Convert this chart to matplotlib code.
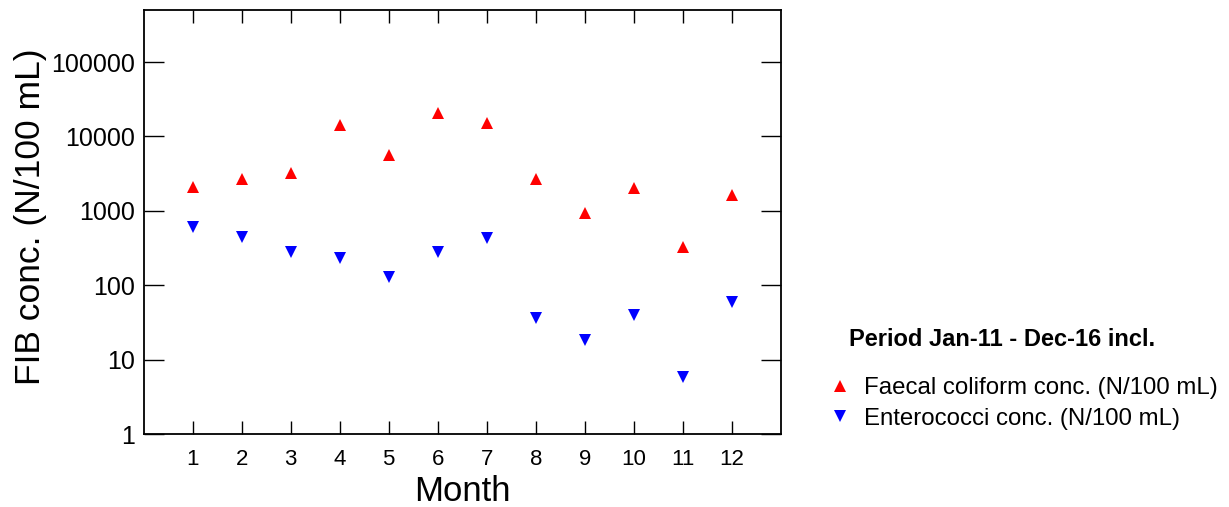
import matplotlib
matplotlib.use("Agg")
import matplotlib.pyplot as plt
from matplotlib.lines import Line2D

plt.rcParams['font.family'] = ['Liberation Sans', 'DejaVu Sans']

# Monthly FIB concentrations, Jan-11 to Dec-16 (N/100 mL)
months = list(range(1, 13))
faecal_coliform = [2090, 2700, 3220, 14260, 5650, 20740, 14990, 2700, 940, 2060, 330, 1620]
enterococci = [606, 442, 280, 236, 129, 283, 431, 36.7, 18.6, 40.3, 5.8, 60.2]

y_ticks = [1, 10, 100, 1000, 10000, 100000]
period_title = "Period Jan-11 - Dec-16 incl."
fc_label = "Faecal coliform conc. (N/100 mL)"
ent_label = "Enterococci conc. (N/100 mL)"

fig = plt.figure(figsize=(12.29, 5.07), dpi=100)
ax = fig.add_axes([0.1168, 0.1434, 0.6355 - 0.1168, 0.9803 - 0.1434])

ax.plot(months, faecal_coliform, linestyle='none', marker='^', color='#ff0000',
        markersize=8.6, markeredgewidth=0)
ax.plot(months, enterococci, linestyle='none', marker='v', color='#0000ff',
        markersize=8.6, markeredgewidth=0)

ax.set_yscale('log')
ax.set_ylim(1, 5e5)
ax.set_xlim(0, 13)
ax.set_xticks(months)
ax.set_xticklabels([str(m) for m in months])
ax.set_yticks(y_ticks)
ax.set_yticklabels([str(t) for t in y_ticks])
ax.minorticks_off()

for s in ax.spines.values():
    s.set_linewidth(1.3)
    s.set_color('black')

ax.tick_params(axis='x', direction='in', length=9.5, width=1.0, top=True,
               labelsize=16, pad=10.5)
ax.tick_params(axis='y', direction='in', length=14.4, width=1.0, right=True,
               labelsize=18, pad=6)

ax.set_xlabel("Month", fontsize=25, labelpad=4)
ax.set_ylabel("FIB conc. (N/100 mL)", fontsize=25.5)
ax.yaxis.set_label_coords(-0.151, 0.514)

# legend block on the right
fig.text(849 / 1229, 1 - 340 / 507, period_title, fontsize=17,
         fontweight='bold', ha='left', va='center')
handles = [
    Line2D([], [], linestyle='none', marker='^', color='#ff0000', markersize=8.6,
           markeredgewidth=0),
    Line2D([], [], linestyle='none', marker='v', color='#0000ff', markersize=8.6,
           markeredgewidth=0),
]
fig.legend(handles, [fc_label, ent_label], loc='upper left',
           bbox_to_anchor=(828 / 1229, 1 - 377 / 507), frameon=False,
           fontsize=17.3, handlelength=1.0, handletextpad=0.5,
           labelspacing=0.37, borderpad=0, borderaxespad=0)

fig.savefig("out.png", dpi=100)
